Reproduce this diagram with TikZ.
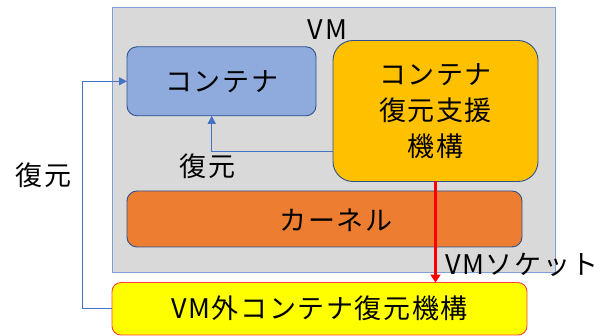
\documentclass[tikz,border=0pt]{standalone}
\usepackage{fontspec}
\setmainfont{Noto Sans CJK JP}[LetterSpace=6]
\usetikzlibrary{arrows.meta}
\definecolor{vmfill}{HTML}{D9D9D9}
\definecolor{vmline}{HTML}{7F9FD8}
\definecolor{contfill}{HTML}{8FAADC}
\definecolor{darkline}{HTML}{2F528F}
\definecolor{supfill}{HTML}{FFC000}
\definecolor{kernfill}{HTML}{ED7D31}
\definecolor{outfill}{HTML}{FFFF00}
\definecolor{outline}{HTML}{FF4040}
\definecolor{conn}{HTML}{4472C4}
\definecolor{arrred}{HTML}{FF0000}
\tikzset{
  every node/.style={inner sep=0pt, outer sep=0pt, text=black},
  boxstyle/.style={draw=darkline, line width=0.9pt, align=center, font=\fontsize{27}{36}\selectfont},
  lbl/.style={font=\fontsize{27}{36}\selectfont},
  bluearrow/.style={draw=conn, line width=1pt, -{Triangle[length=8pt,width=8pt]}},
  redarrow/.style={draw=arrred, line width=3pt, -{Triangle[length=8pt,width=10pt]}},
}
\begin{document}
\begin{tikzpicture}[x=1pt,y=-1pt]
\useasboundingbox (0,0) rectangle (606,336);
\node[draw=vmline, fill=vmfill, line width=0.9pt, minimum width=443pt, minimum height=265pt] (vm) at (333.5,140) {};
\node[lbl] (vmlbl) at (327.5,29.5) {VM};
\node[boxstyle, fill=contfill, rounded corners=10pt, minimum width=189pt, minimum height=69pt] (cont) at (221.5,81.3) {};
\node[lbl] (conttxt) at (221.7,81.5) {コンテナ};
\node[boxstyle, fill=supfill, rounded corners=20pt, minimum width=205pt, minimum height=141pt] (sup) at (435.5,111) {};
\node[lbl, align=center] (suptxt) at (435.5,111) {コンテナ\\復元支援\\機構};
\node[boxstyle, fill=kernfill, rounded corners=10pt, minimum width=395pt, minimum height=56pt] (kern) at (324.5,219) {};
\node[lbl] (kerntxt) at (336,220) {カーネル};
\node[draw=outline, fill=outfill, line width=0.9pt, rounded corners=9pt, minimum width=415pt, minimum height=52.5pt] (out) at (319.5,308.8) {};
\node[lbl] (outtxt) at (319.5,308.5) {VM外コンテナ復元機構};
\node[lbl] (socklbl) at (522,265) {VMソケット};
\node[lbl] (rest1) at (207.5,166.5) {復元};
\node[lbl] (rest2) at (43.8,175) {復元};
\draw[redarrow] (sup.south) -- (sup.south |- out.north);
\draw[bluearrow] (sup.west |- 0,151.7) -| ([xshift=-9.8pt]cont.south);
\draw[bluearrow] (out.west) -- ++(-29.3,0) |- (cont.west);
\end{tikzpicture}
\end{document}
